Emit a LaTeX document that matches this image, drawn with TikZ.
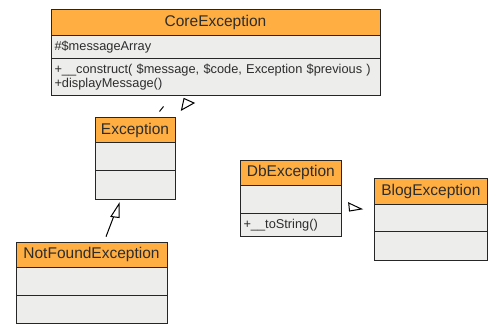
\documentclass[tikz,border=0pt]{standalone}
\usepackage{fontspec}
\setmainfont{Liberation Sans}
\usetikzlibrary{positioning}

\definecolor{headorange}{RGB}{255,174,66}
\definecolor{bodygray}{RGB}{237,237,235}
\definecolor{inkgray}{RGB}{45,45,45}

\tikzset{
  classhead/.style={draw=black!85, fill=headorange, line width=1pt,
    inner sep=0pt, outer sep=0pt, anchor=north west, text=inkgray,
    font=\fontsize{15.5}{18}\selectfont},
  classbody/.style={draw=black!85, fill=bodygray, line width=1pt,
    inner xsep=3.5pt, inner ysep=0pt, outer sep=0pt, align=left,
    text=inkgray, font=\fontsize{12.8}{14}\selectfont},
  genline/.style={draw=black, line width=1pt},
  genhead/.style={draw=black, fill=white, line width=1pt, line join=miter},
}

\begin{document}
\begin{tikzpicture}[x=1pt, y=-1pt]
  \useasboundingbox[fill=white] (0,0) rectangle (503,334);

  % CoreException
  \node[classhead, minimum width=329pt, minimum height=25.5pt] (core) at (51,10) {CoreException};
  \node[classbody, text width=322pt, minimum height=23.5pt, below=0pt of core] (core-attr) {\#\$messageArray};
  \node[classbody, text width=322pt, minimum height=36.5pt, below=0pt of core-attr] (core-ops)
    {+\_\_construct( \$message, \$code, Exception \$previous )\\+displayMessage()};

  % Exception
  \node[classhead, minimum width=80pt, minimum height=25pt] (exc) at (95,117.7) {Exception};
  \node[classbody, minimum width=80pt, minimum height=28pt, below=0pt of exc] (exc-attr) {};
  \node[classbody, minimum width=80pt, minimum height=28.3pt, below=0pt of exc-attr] (exc-ops) {};

  % NotFoundException
  \node[classhead, minimum width=151pt, minimum height=25pt] (notfound) at (16,242) {NotFoundException};
  \node[classbody, minimum width=151pt, minimum height=28.7pt, below=0pt of notfound] (notfound-attr) {};
  \node[classbody, minimum width=151pt, minimum height=27.3pt, below=0pt of notfound-attr] (notfound-ops) {};

  % DbException
  \node[classhead, minimum width=101.7pt, minimum height=25.7pt] (db) at (240,160) {DbException};
  \node[classbody, minimum width=101.7pt, minimum height=27.3pt, below=0pt of db] (db-attr) {};
  \node[classbody, text width=94.7pt, minimum height=23.7pt, below=0pt of db-attr] (db-ops) {+\_\_toString()};

  % BlogException
  \node[classhead, minimum width=113.7pt, minimum height=25.7pt] (blog) at (374,178.3) {BlogException};
  \node[classbody, minimum width=113.7pt, minimum height=27.7pt, below=0pt of blog] (blog-attr) {};
  \node[classbody, minimum width=113.7pt, minimum height=28.3pt, below=0pt of blog-attr] (blog-ops) {};

  % generalisation Exception -> CoreException
  \coordinate (exc-from) at (159.5,111.5);
  \coordinate (exc-to) at (163.5,106.5);
  \coordinate (core-tip-a) at (184,98.5);
  \coordinate (core-tip-b) at (181.5,110);
  \coordinate (core-tip-c) at (194,103);
  \draw[genline] (exc-from) -- (exc-to);
  \draw[genhead] (core-tip-a) -- (core-tip-b) -- (core-tip-c) -- cycle;

  % generalisation NotFoundException -> Exception
  \coordinate (notfound-from) at (106,236.7);
  \coordinate (notfound-to) at (113.5,217);
  \coordinate (exc-tip-a) at (119,204);
  \coordinate (exc-tip-b) at (111,216.5);
  \coordinate (exc-tip-c) at (119,217.5);
  \draw[genline] (notfound-from) -- (notfound-to);
  \draw[genhead] (exc-tip-a) -- (exc-tip-b) -- (exc-tip-c) -- cycle;

  % generalisation DbException -> BlogException
  \coordinate (blog-tip-a) at (348.7,203);
  \coordinate (blog-tip-b) at (349.5,211);
  \coordinate (blog-tip-c) at (361.5,209);
  \draw[genhead] (blog-tip-a) -- (blog-tip-b) -- (blog-tip-c) -- cycle;
\end{tikzpicture}
\end{document}
